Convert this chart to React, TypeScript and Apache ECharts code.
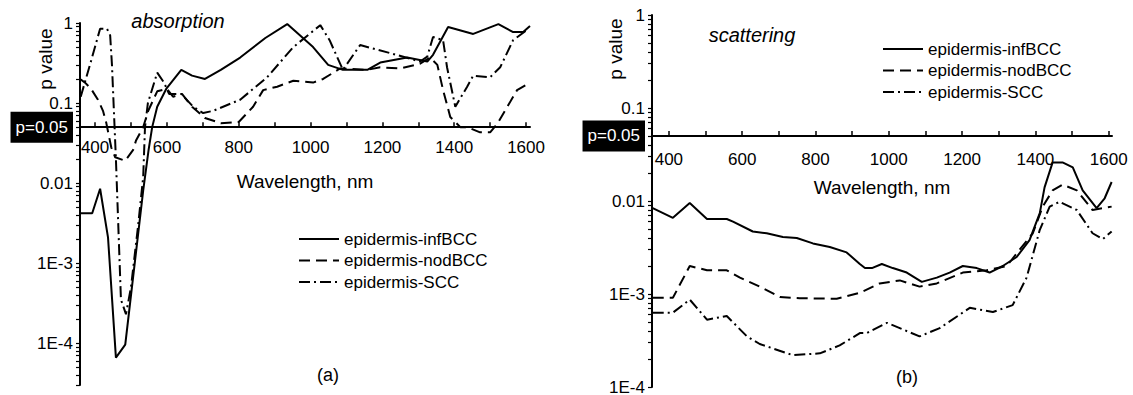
import React, { useEffect, useRef } from 'react';
import * as echarts from 'echarts';

const seriesNames = ['epidermis-infBCC', 'epidermis-nodBCC', 'epidermis-SCC'];

// (a) absorption: [wavelength nm, p value]
const absInfBCC = [
  [358, 0.0042], [392, 0.0042], [414, 0.0085], [436, 0.0021], [458, 6.6e-5], [484, 9.6e-5],
  [534, 0.0081], [549, 0.026], [559, 0.05], [573, 0.09], [598, 0.15], [640, 0.26], [670, 0.22],
  [706, 0.2], [750, 0.26], [804, 0.37], [874, 0.65], [935, 0.97], [1007, 0.5], [1049, 0.3],
  [1090, 0.26], [1158, 0.26], [1194, 0.32], [1269, 0.37], [1325, 0.33], [1341, 0.4], [1383, 0.89],
  [1453, 0.73], [1523, 0.97], [1564, 0.77], [1592, 0.77], [1611, 0.92],
];
const absNodBCC = [
  [358, 0.2], [372, 0.18], [389, 0.15], [408, 0.11], [422, 0.08], [431, 0.057], [445, 0.028],
  [456, 0.021], [484, 0.019], [506, 0.026], [514, 0.034], [534, 0.05], [548, 0.08], [573, 0.14],
  [600, 0.15], [617, 0.12], [642, 0.13], [670, 0.09], [706, 0.065], [750, 0.056], [800, 0.058],
  [840, 0.09], [868, 0.145], [907, 0.16], [952, 0.19], [1007, 0.18], [1035, 0.2], [1082, 0.27],
  [1158, 0.26], [1194, 0.28], [1250, 0.27], [1305, 0.31], [1333, 0.37], [1353, 0.3], [1369, 0.145],
  [1389, 0.067], [1417, 0.05], [1436, 0.05], [1472, 0.043], [1500, 0.043], [1520, 0.055],
  [1548, 0.09], [1575, 0.145], [1611, 0.18],
];
const absSCC = [
  [360, 0.12], [390, 0.35], [414, 0.85], [433, 0.85], [442, 0.7], [447, 0.3], [458, 0.02],
  [472, 3.5e-4], [486, 2.3e-4], [500, 5e-4], [520, 0.003], [534, 0.012], [539, 0.05], [547, 0.1],
  [573, 0.24], [592, 0.18], [606, 0.13], [640, 0.13], [673, 0.09], [701, 0.075], [729, 0.08],
  [804, 0.11], [879, 0.21], [952, 0.5], [1027, 0.94], [1053, 0.61], [1090, 0.26], [1138, 0.53],
  [1222, 0.42], [1305, 0.33], [1325, 0.38], [1341, 0.67], [1369, 0.61], [1380, 0.28], [1403, 0.09],
  [1436, 0.16], [1453, 0.22], [1500, 0.21], [1528, 0.28], [1564, 0.61], [1603, 0.82],
];

// (b) scattering
const scaInfBCC = [
  [356, 0.0084], [411, 0.0066], [457, 0.0095], [504, 0.0064], [558, 0.0064], [575, 0.006],
  [629, 0.0047], [667, 0.0045], [711, 0.0041], [749, 0.004], [793, 0.0035], [839, 0.0032],
  [885, 0.0028], [921, 0.0021], [935, 0.0019], [954, 0.0019], [981, 0.0021], [1011, 0.0019],
  [1049, 0.0017], [1090, 0.00135], [1131, 0.0015], [1166, 0.0017], [1202, 0.002], [1240, 0.0019],
  [1275, 0.0017], [1311, 0.002], [1349, 0.0025], [1384, 0.0038], [1412, 0.0074], [1425, 0.014],
  [1447, 0.026], [1474, 0.026], [1502, 0.023], [1529, 0.013], [1567, 0.0084], [1589, 0.0107],
  [1608, 0.016],
];
const scaNodBCC = [
  [356, 0.00091], [411, 0.00091], [457, 0.002], [504, 0.0018], [558, 0.0018], [594, 0.0015],
  [648, 0.0012], [703, 0.00093], [757, 0.0009], [858, 0.00089], [921, 0.00103], [975, 0.0013],
  [1030, 0.0014], [1084, 0.0012], [1131, 0.0013], [1202, 0.0017], [1267, 0.0018], [1322, 0.002],
  [1357, 0.003], [1393, 0.0045], [1420, 0.0087], [1447, 0.013], [1474, 0.015], [1513, 0.013],
  [1556, 0.008], [1608, 0.0087],
];
const scaSCC = [
  [356, 0.00063], [411, 0.00063], [457, 0.00087], [504, 0.00053], [558, 0.00058], [613, 0.00035],
  [648, 0.00029], [738, 0.00022], [812, 0.00023], [866, 0.00028], [921, 0.00038], [940, 0.00038],
  [995, 0.00049], [1084, 0.00035], [1139, 0.00043], [1221, 0.00071], [1284, 0.00064],
  [1338, 0.00076], [1376, 0.0015], [1412, 0.0049], [1439, 0.0087], [1466, 0.0098], [1513, 0.008],
  [1556, 0.0045], [1584, 0.0039], [1608, 0.0047],
];

const xTickLabels = [400, 600, 800, 1000, 1200, 1400, 1600];
const xTickMarks = [400, 500, 600, 700, 800, 900, 1000, 1100, 1200, 1300, 1400, 1500, 1600];
const yMajor = [1, 0.1, 0.01, 0.001, 0.0001];
const pThreshold = 0.05;

const FONT = 'Liberation Sans, Arial, sans-serif';

const panels = [
  { left: 80, top: 23, width: 450, height: 362, xMin: 358, xMax: 1611, yMin: 3e-5, yMax: 1 },
  { left: 652, top: 15, width: 460, height: 372, xMin: 354, xMax: 1609, yMin: 1e-4, yMax: 1 },
];

function minorTicks(yMin: number, yMax: number) {
  const out: number[] = [];
  const lo = Math.floor(Math.log10(yMin));
  const hi = Math.ceil(Math.log10(yMax));
  for (let e = lo; e <= hi; e++) {
    for (let m = 1; m <= 9; m++) {
      const v = m * Math.pow(10, e);
      if (v >= yMin * 0.999 && v <= yMax * 1.001) out.push(v);
    }
  }
  return out;
}

function yLabel(v: number) {
  if (Math.abs(v - pThreshold) < 1e-9) return '{box|p=0.05}';
  const l = Math.log10(v);
  const e = Math.round(l);
  if (Math.abs(l - e) > 1e-6) return '';
  if (e === 0) return '1';
  if (e === -1) return '0.1';
  if (e === -2) return '0.01';
  return '1E' + e;
}

const lineTypes: any[] = ['solid', [11, 6], [11, 4, 2, 4]];

export default function App() {
  const ref = useRef<HTMLDivElement>(null);
  useEffect(() => {
    if (!ref.current) return;
    const chart = echarts.init(ref.current, undefined, { renderer: 'svg' });

    const grids = panels.map((p) => ({
      left: p.left, top: p.top, width: p.width, height: p.height,
      outerBoundsMode: 'none', containLabel: false,
    }));

    const xAxes = panels.map((p, i) => {
      const off = p.height * Math.log10(p.yMax / pThreshold) / Math.log10(p.yMax / p.yMin);
      return {
        type: 'value', gridIndex: i, min: p.xMin, max: p.xMax, position: 'top', offset: -off,
        axisLine: { show: true, lineStyle: { color: '#000', width: 2 } },
        axisTick: { show: true, inside: false, length: 5, customValues: xTickMarks, lineStyle: { color: '#000', width: 1.5 } },
        axisLabel: {
          show: true, inside: true, margin: i === 0 ? 12 : 15, customValues: xTickLabels,
          formatter: (v: number) => String(Math.round(v)),
          color: '#000', fontSize: 17, fontFamily: FONT,
        },
        splitLine: { show: false },
        minorTick: { show: false },
      };
    });

    const yAxes = panels.map((p, i) => ({
      type: 'log', logBase: 10, gridIndex: i, min: p.yMin, max: p.yMax,
      axisLine: { show: true, lineStyle: { color: '#000', width: 2 } },
      axisTick: { show: true, inside: false, length: 4, customValues: minorTicks(p.yMin, p.yMax), lineStyle: { color: '#000', width: 1.2 } },
      axisLabel: {
        show: true, margin: 7, customValues: [...yMajor, pThreshold], formatter: yLabel,
        color: '#000', fontSize: 17, fontFamily: FONT,
        rich: { box: { backgroundColor: '#000', color: '#fff', fontSize: 17, fontFamily: FONT, padding: [7, 5, 7, 5] } },
      },
      splitLine: { show: false },
    }));

    const mk = (name: string, data: number[][], idx: number, k: number) => ({
      name, type: 'line', data, xAxisIndex: idx, yAxisIndex: idx,
      symbol: 'none', showSymbol: false, smooth: false,
      lineStyle: { color: '#000', width: 2, type: lineTypes[k] },
      itemStyle: { color: '#000' },
      emphasis: { disabled: true },
    });

    const series = [
      mk(seriesNames[0], absInfBCC, 0, 0),
      mk(seriesNames[1], absNodBCC, 0, 1),
      mk(seriesNames[2], absSCC, 0, 2),
      mk(seriesNames[0], scaInfBCC, 1, 0),
      mk(seriesNames[1], scaNodBCC, 1, 1),
      mk(seriesNames[2], scaSCC, 1, 2),
    ];

    const legendBase = {
      data: seriesNames, orient: 'vertical', itemWidth: 40, itemHeight: 14, itemGap: 3.5,
      selectedMode: false,
      itemStyle: { opacity: 0, borderWidth: 0 },
      textStyle: { fontSize: 17, fontFamily: FONT, color: '#000', lineHeight: 18 },
    };

    const txt = (text: string, x: number, y: number, size: number, extra: any = {}) => ({
      type: 'text', x, y, ...extra,
      style: { text, fontSize: size, fontFamily: FONT, fill: '#000', textAlign: 'center', textVerticalAlign: 'middle', ...(extra.style || {}) },
    });

    chart.setOption({
      animation: false,
      backgroundColor: '#fff',
      grid: grids,
      xAxis: xAxes,
      yAxis: yAxes,
      series,
      legend: [
        { ...legendBase, left: 293, top: 225 },
        { ...legendBase, left: 877, top: 35 },
      ],
      graphic: [
        txt('p value', 45, 59, 19, { rotation: Math.PI / 2 }),
        txt('p value', 615, 49, 19, { rotation: Math.PI / 2 }),
        txt('absorption', 178, 21, 20, { style: { fontStyle: 'italic' } }),
        txt('scattering', 752, 35, 20, { style: { fontStyle: 'italic' } }),
        txt('Wavelength, nm', 305, 181, 19),
        txt('Wavelength, nm', 882, 187, 19),
        txt('(a)', 328, 375, 18),
        txt('(b)', 907, 377, 18),
      ],
    });
    return () => chart.dispose();
  }, []);
  return <div ref={ref} style={{ position: 'absolute', left: 0, top: 0, width: 1133, height: 395 }} />;
}
